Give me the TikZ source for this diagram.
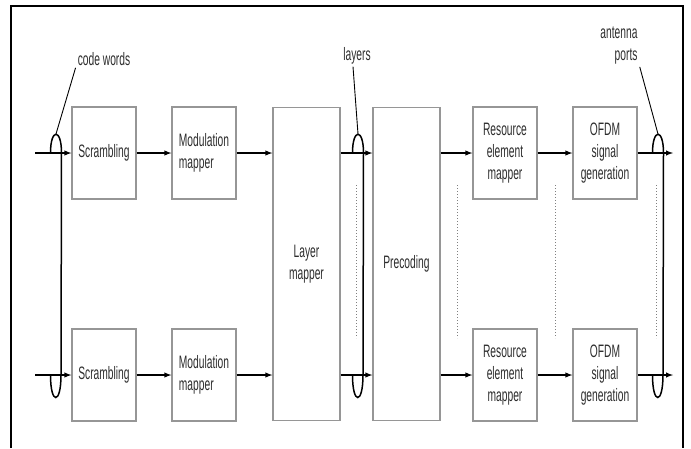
\documentclass[tikz,border=0pt]{standalone}
\usepackage{fontspec}
\setmainfont{Liberation Sans}[FakeStretch=0.57]
\definecolor{boxgray}{RGB}{150,150,150}
\definecolor{textgray}{RGB}{45,45,45}
\usetikzlibrary{arrows}

\begin{document}
\begin{tikzpicture}[x=1pt, y=-1pt,
			>=latex,   %Pfeilspitzen
			block/.style={draw=boxgray, line width=1.3pt, text=textgray, align=center, minimum width=64pt, minimum height=92pt, inner sep=1pt},
			tall/.style={block, minimum width=67pt, minimum height=313pt},
			flow/.style={->, line width=1.4pt},
			bracket/.style={line width=1.5pt},
			pointer/.style={line width=0.9pt},
			tag/.style={text=textgray, inner sep=2pt},
			font=\fontsize{18}{22}\selectfont]
			%Bildbereich und Rahmen
			\useasboundingbox (0,0) rectangle (691,448);
			\draw[line width=2.6pt] (11,448) -- (11,6) -- (683,6) -- (683,448);
			% Bloecke
			\node[block] (scrA) at (104,153) {Scrambling};
			\node[block, align=left] (modA) at (204,153) {Modulation\\mapper};
			\node[block] (scrB) at (104,375) {Scrambling};
			\node[block, align=left] (modB) at (204,375) {Modulation\\mapper};
			\node[tall] (layer) at (306.5,264) {Layer\\mapper};
			\node[tall] (prec) at (406.5,264) {Precoding};
			\node[block] (reA) at (505,153) {Resource\\element\\mapper};
			\node[block] (ofdmA) at (605,153) {OFDM\\signal\\generation};
			\node[block] (reB) at (505,375) {Resource\\element\\mapper};
			\node[block] (ofdmB) at (605,375) {OFDM\\signal\\generation};
			% Ein- und Ausgaenge
			\coordinate (inA) at (35,153);
			\coordinate (inB) at (35,375);
			\coordinate (outA) at (673,153);
			\coordinate (outB) at (673,375);
			% Pfeile
			\foreach \r in {A,B} {
				\draw[flow] (in\r) -- (scr\r);
				\draw[flow] (scr\r) -- (mod\r);
				\draw[flow] (mod\r) -- (layer.west |- mod\r);
				\draw[flow] (layer.east |- mod\r) -- (prec.west |- mod\r);
				\draw[flow] (prec.east |- mod\r) -- (re\r);
				\draw[flow] (re\r) -- (ofdm\r);
				\draw[flow] (ofdm\r) -- (out\r);
			}
			% Punktlinien
			\foreach \x in {356,457,555,656} \draw[gray, line width=1pt, dotted] (\x,185) -- (\x,338);
			% Klammern
			\foreach \lx in {56,358,658}
				\draw[bracket] ({\lx-5.5},153) .. controls ({\lx-5.5},128) and ({\lx+5.5},128) .. ({\lx+5.5},153)
					-- ({\lx+5},375) .. controls ({\lx+5},405) and ({\lx-5.5},405) .. ({\lx-5.5},375);
			\coordinate (cwtip) at (56,134);
			\coordinate (lytip) at (358,134);
			\coordinate (aptip) at (658,134);
			%Beschriftung
			\node[tag] (cw) at (104,59) {code words};
			\node[tag] (ly) at (357,56) {layers};
			\node[tag, align=right] (ap) at (619,46) {antenna\\ports};
			\draw[pointer] (cw.south west) -- (cwtip);
			\draw[pointer] ([xshift=-4pt]ly.south) -- (lytip);
			\draw[pointer] (ap.south east) -- (aptip);
		\end{tikzpicture}
\end{document}
